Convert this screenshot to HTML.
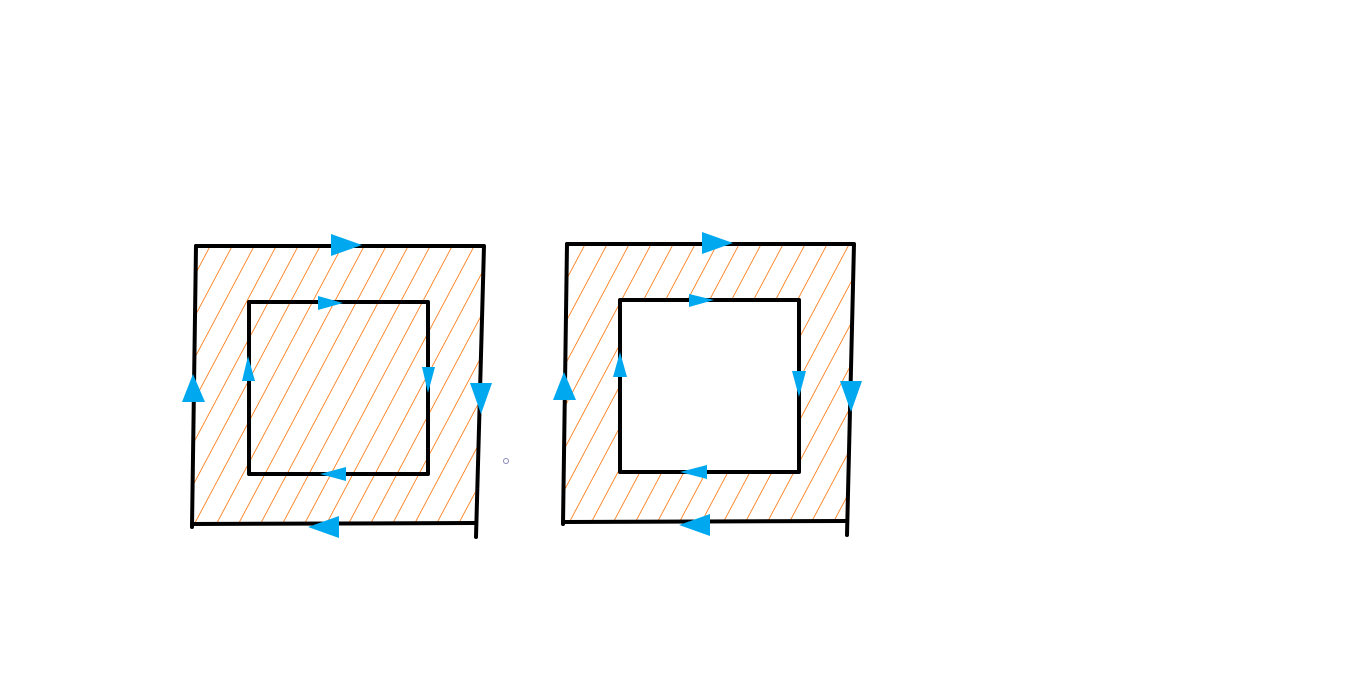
<!DOCTYPE html>
<html><head><meta charset="utf-8"><style>
html,body{margin:0;padding:0;background:#fff;width:1350px;height:679px;overflow:hidden}
</style></head><body>
<svg width="1350" height="679" viewBox="0 0 1350 679" xmlns="http://www.w3.org/2000/svg">
<defs>
<pattern id="hatch" patternUnits="userSpaceOnUse" width="22" height="679" patternTransform="skewX(-28)">
<line x1="11" y1="0" x2="11" y2="679" stroke="#ff7f1e" stroke-width="1"/>
</pattern>
<mask id="m1"><rect width="1350" height="679" fill="black"/><polygon points="196,246 484,246 474,524 192,525" fill="white"/></mask>
<mask id="m2"><rect width="1350" height="679" fill="black"/><polygon points="567,244 854,244 846,522 563,522" fill="white"/><rect x="620" y="300" width="179" height="172" fill="black"/></mask>
</defs>
<g>
<rect width="1350" height="679" fill="url(#hatch)" mask="url(#m1)"/>
<polyline points="196,246 484,246 476,537" fill="none" stroke="#000" stroke-width="4" stroke-linecap="round" stroke-linejoin="round"/>
<line x1="196" y1="246" x2="192" y2="527" stroke="#000" stroke-width="4" stroke-linecap="round"/>
<line x1="192" y1="524" x2="474" y2="523" stroke="#000" stroke-width="4" stroke-linecap="round"/>
<rect x="249" y="302" width="179" height="172" fill="none" stroke="#000" stroke-width="4" stroke-linejoin="round"/>
<g fill="#00a8f0">
<polygon points="331,234 362,245 331,256"/>
<polygon points="182,402 193,374 205,402"/>
<polygon points="470,383 492,383 481,414"/>
<polygon points="339,516 339,538 308,527"/>
<polygon points="318,296 343,303 318,310"/>
<polygon points="242,381 248,356 255,381"/>
<polygon points="422,367 435,367 428,393"/>
<polygon points="346,467 346,481 320,474"/>
</g>
</g>
<circle cx="506" cy="461" r="2.5" fill="none" stroke="#8888bb" stroke-width="1"/>
<g>
<rect width="1350" height="679" fill="url(#hatch)" mask="url(#m2)"/>
<polyline points="567,244 854,244 847,535" fill="none" stroke="#000" stroke-width="4" stroke-linecap="round" stroke-linejoin="round"/>
<line x1="567" y1="244" x2="563" y2="524" stroke="#000" stroke-width="4" stroke-linecap="round"/>
<line x1="563" y1="522" x2="846" y2="521" stroke="#000" stroke-width="4" stroke-linecap="round"/>
<rect x="620" y="300" width="179" height="172" fill="none" stroke="#000" stroke-width="4" stroke-linejoin="round"/>
<g fill="#00a8f0">
<polygon points="702,232 733,243 702,254"/>
<polygon points="553,400 564,372 576,400"/>
<polygon points="840,381 862,381 851,412"/>
<polygon points="710,514 710,536 679,525"/>
<polygon points="689,294 714,300 689,307"/>
<polygon points="613,377 620,352 627,377"/>
<polygon points="792,371 806,371 799,397"/>
<polygon points="707,465 707,479 680,472"/>
</g>
</g>
</svg>
</body></html>
